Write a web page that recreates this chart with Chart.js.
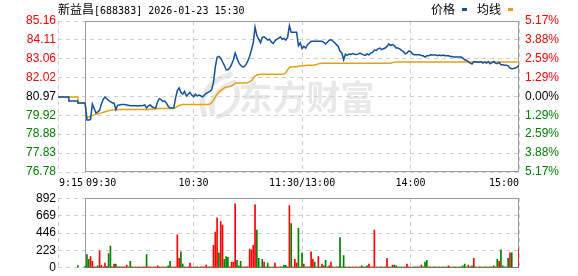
<!DOCTYPE html>
<html>
<head>
<meta charset="utf-8">
<script src="https://cdn.jsdelivr.net/npm/chart.js@4.4.1/dist/chart.umd.min.js"></script>
<style>
  html, body { margin: 0; padding: 0; width: 578px; height: 276px; overflow: hidden; background: #fff; }
  #wrap { position: relative; width: 578px; height: 276px; overflow: hidden; }
  canvas { position: absolute; left: 0; }
  #priceChart { top: 0; }
  #volChart { top: 189px; }
  .txt { position: absolute; top: 1px; line-height: 16px; color: #000; white-space: nowrap; }
  .cjk { font-family: "Noto Sans CJK SC", sans-serif; font-size: 12px; }
  .mono { font-family: "DejaVu Sans Mono", monospace; font-size: 10px; }
  .key { position: absolute; top: 8px; width: 5px; height: 3px; }
</style>
</head>
<body>
<div id="wrap">
  <canvas id="priceChart" width="578" height="192"></canvas>
  <canvas id="volChart" width="578" height="88"></canvas>
  <div class="txt" style="left:58px"><span class="cjk">新益昌</span><span class="mono">[688383] 2026-01-23 15:30</span></div>
  <div class="txt cjk" style="left:431px">价格</div>
  <div class="key" style="left:462px;background:#1450a0"></div>
  <div class="txt cjk" style="left:477px">均线</div>
  <div class="key" style="left:508px;background:#e8a015"></div>
</div>
<script>
// ---- data (minutes from 09:30; pre-market -15..0) ----
const timeTicks = [-15, 0, 60, 120, 180, 240];
const timeLabels = ["9:15", "09:30", "10:30", "11:30/13:00", "14:00", "15:00"];

const priceTicks = [76.78, 77.83, 78.88, 79.92, 80.97, 82.02, 83.06, 84.11, 85.16];
const pctLabels = ["5.17%", "3.88%", "2.59%", "1.29%", "0.00%", "1.29%", "2.59%", "3.88%", "5.17%"];
const volTicks = [0, 223, 446, 669, 892];

// auction 9:15 - 9:30
const prePrice = [80.94, 80.94, 80.94, 80.94, 80.94, 80.94, 80.72, 80.72, 80.72, 80.72, 80.72, 80.61, 80.61, 80.61, 80.61, 80.61];
const preAvg = [80.94, 80.94, 80.94, 80.94, 80.94, 80.94, 80.94, 80.94, 80.94, 80.94, 80.94, 80.61, 80.61, 80.61, 80.61, 80.61];
const preVolMinute = [-4];
const preVolume = [30];

const price = [
  80.61, 79.66, 79.66, 79.70, 80.55, 80.30, 80.05, 80.12, 80.20, 80.55,
  80.80, 80.95, 80.85, 80.75, 80.68, 80.62, 80.60, 80.25, 80.48, 80.50,
  80.52, 80.52, 80.52, 80.50, 80.48, 80.45, 80.45, 80.45, 80.46, 80.44,
  80.45, 80.45, 80.47, 80.50, 80.33, 80.45, 80.50, 80.40, 80.35, 80.33,
  80.65, 80.85, 80.80, 80.70, 80.72, 80.60, 80.42, 80.33, 80.33, 80.33,
  80.87, 81.30, 81.45, 81.20, 81.10, 81.25, 81.00, 81.10, 81.20, 81.05,
  80.95, 81.10, 81.00, 81.05, 81.00, 80.95, 81.05, 81.15, 81.20, 81.25,
  81.35, 81.75, 82.60, 83.15, 83.20, 83.10, 82.90, 82.70, 82.45, 82.45,
  82.55, 82.75, 83.00, 83.38, 83.10, 82.85, 82.70, 82.62, 82.62, 82.75,
  82.95, 83.20, 83.55, 83.95, 84.82, 84.35, 84.15, 83.95, 84.25, 84.28,
  84.20, 84.10, 84.15, 84.00, 83.92, 84.05, 84.15, 84.20, 84.28, 84.15,
  84.20, 84.10, 84.25, 84.90, 84.53, 84.53, 84.53, 84.53, 83.78, 83.95,
  83.62, 83.75, 83.66, 83.85, 83.94, 84.03, 84.03, 84.03, 84.03, 84.03,
  84.03, 84.03, 83.98, 83.88, 83.98, 84.09, 84.12, 84.05, 83.95, 83.85,
  83.75, 83.48, 83.40, 83.01, 83.32, 83.25, 83.33, 83.30, 83.35, 83.32,
  83.30, 83.32, 83.38, 83.32, 83.28, 83.25, 83.33, 83.28, 83.38, 83.42,
  83.55, 83.53, 83.61, 83.66, 83.57, 83.62, 83.66, 83.75, 83.89, 83.80,
  83.85, 83.80, 83.66, 83.66, 83.61, 83.53, 83.47, 83.34, 83.38, 83.49,
  83.47, 83.34, 83.29, 83.29, 83.29, 83.29, 83.25, 83.23, 83.16, 83.23,
  83.23, 83.29, 83.27, 83.27, 83.27, 83.23, 83.27, 83.23, 83.27, 83.23,
  83.23, 83.23, 83.19, 83.19, 83.16, 83.16, 83.16, 83.16, 83.16, 83.10,
  83.01, 82.97, 82.90, 82.82, 82.77, 82.91, 82.89, 82.88, 82.87, 82.91,
  82.82, 82.88, 82.82, 82.90, 82.79, 82.85, 82.91, 82.82, 82.79, 82.87,
  82.73, 82.73, 82.71, 82.71, 82.67, 82.55, 82.51, 82.52, 82.55, 82.60,
  82.71
];

const avgPrice = [
  80.61, 79.78, 79.82, 79.88, 79.92, 79.95, 79.98, 80.00, 80.03, 80.06,
  80.09, 80.12, 80.15, 80.18, 80.20, 80.22, 80.23, 80.23, 80.24, 80.25,
  80.25, 80.25, 80.25, 80.25, 80.25, 80.25, 80.25, 80.25, 80.25, 80.25,
  80.25, 80.25, 80.25, 80.25, 80.25, 80.25, 80.26, 80.26, 80.27, 80.27,
  80.30, 80.30, 80.30, 80.30, 80.30, 80.30, 80.30, 80.30, 80.30, 80.31,
  80.36, 80.42, 80.47, 80.50, 80.52, 80.52, 80.52, 80.52, 80.52, 80.52,
  80.52, 80.52, 80.52, 80.52, 80.52, 80.52, 80.52, 80.52, 80.53, 80.55,
  80.62, 80.78, 80.95, 81.10, 81.22, 81.30, 81.38, 81.45, 81.50, 81.50,
  81.52, 81.55, 81.62, 81.70, 81.72, 81.72, 81.72, 81.72, 81.72, 81.72,
  81.73, 81.78, 81.86, 81.98, 82.10, 82.16, 82.18, 82.20, 82.20, 82.20,
  82.20, 82.20, 82.20, 82.20, 82.20, 82.20, 82.20, 82.20, 82.20, 82.20,
  82.22, 82.30, 82.45, 82.58, 82.62, 82.62, 82.62, 82.62, 82.65, 82.66,
  82.67, 82.68, 82.69, 82.70, 82.70, 82.71, 82.71, 82.72, 82.74, 82.78,
  82.80, 82.81, 82.82, 82.82, 82.82, 82.82, 82.82, 82.82, 82.82, 82.82,
  82.82, 82.82, 82.82, 82.82, 82.82, 82.82, 82.82, 82.82, 82.82, 82.82,
  82.82, 82.82, 82.82, 82.82, 82.82, 82.82, 82.82, 82.82, 82.82, 82.82,
  82.82, 82.82, 82.82, 82.82, 82.82, 82.82, 82.82, 82.82, 82.82, 82.82,
  82.85, 82.87, 82.88, 82.88, 82.88, 82.88, 82.88, 82.88, 82.88, 82.88,
  82.88, 82.88, 82.88, 82.88, 82.88, 82.88, 82.88, 82.88, 82.88, 82.88,
  82.88, 82.88, 82.88, 82.88, 82.88, 82.88, 82.88, 82.88, 82.88, 82.88,
  82.88, 82.88, 82.88, 82.88, 82.88, 82.88, 82.88, 82.88, 82.88, 82.88,
  82.88, 82.88, 82.88, 82.88, 82.88, 82.88, 82.88, 82.88, 82.88, 82.88,
  82.88, 82.88, 82.88, 82.88, 82.88, 82.88, 82.88, 82.88, 82.88, 82.88,
  82.88, 82.88, 82.88, 82.88, 82.88, 82.88, 82.88, 82.88, 82.88, 82.88,
  82.88
];

const volume = [
  20, 169, 109, 145, 84, 12, 12, 24, 217, 32,
  12, 60, 20, 181, 277, 12, 48, 48, 12, 12,
  12, 12, 12, 36, 12, 84, 12, 10, 12, 10,
  12, 10, 12, 12, 169, 12, 12, 10, 12, 10,
  24, 12, 10, 12, 10, 12, 24, 84, 12, 10,
  12, 422, 121, 205, 48, 12, 10, 12, 60, 12,
  10, 12, 12, 10, 12, 12, 12, 36, 12, 12,
  12, 289, 458, 639, 193, 591, 547, 109, 145, 133,
  12, 72, 72, 820, 96, 24, 84, 12, 12, 12,
  12, 241, 229, 289, 808, 482, 121, 12, 109, 72,
  12, 60, 12, 10, 12, 60, 12, 10, 12, 12,
  36, 32, 12, 796, 567, 12, 109, 60, 506, 12,
  193, 48, 12, 12, 12, 205, 109, 72, 12, 145,
  12, 48, 24, 96, 12, 24, 72, 12, 10, 12,
  12, 386, 12, 157, 12, 10, 12, 10, 12, 10,
  12, 10, 12, 24, 12, 12, 24, 48, 12, 12,
  482, 12, 10, 12, 12, 10, 12, 121, 12, 10,
  36, 36, 24, 12, 10, 12, 10, 12, 48, 12,
  8, 10, 12, 12, 12, 12, 36, 12, 72, 96,
  12, 12, 10, 12, 12, 10, 12, 10, 12, 10,
  12, 24, 12, 10, 12, 12, 10, 12, 12, 24,
  48, 12, 36, 12, 24, 121, 12, 10, 12, 12,
  10, 12, 12, 10, 12, 12, 24, 12, 109, 84,
  229, 24, 12, 12, 121, 193, 193, 0, 0, 0,
  241
];

// r = up minute, g = down minute
const volDir = (
  "gggrrrggrr grggggrgrg rgrrggrrgr rgrrgrrgrr rrgrrgggrr " +
  "rrrggrgrrr grgrgrrrrg rrrrgrrggg rrrrgggrgr rrrrrggggr " +
  "ggrggrrrgg ggrrgrrrgg grggrrrggr grggrrrggr ggggrgrgrr " +
  "grrgrggrrr rrgrgrrrrg rgggrggrrr ggggrgrggg grggrgrggr " +
  "grggrggrgg grgrgrggrg rgrgrggrgr gggggrgggg r"
).replace(/ /g, "").split("");
const preVolDir = ["g"];

// ---- look ----
const RED = "#ff0000";
const GREEN = "#008000";
const BLUE = "#1450a0";
const ORANGE = "#e8a015";
const GRID = "#cfcfcf";
const FRAME = "#999999";
const tickFont = { family: "'Liberation Sans', Arial, sans-serif", size: 12 };

function tickColor(i) {
  if (i < 4) return GREEN;
  if (i === 4) return "#000";
  return RED;
}

// solid frame around the trading session (09:30 - 15:00)
const sessionFrame = {
  id: "sessionFrame",
  beforeDatasetsDraw(chart) {
    const { ctx, chartArea, scales } = chart;
    const l = Math.round(scales.x.getPixelForValue(0)) + 0.5;
    const r = Math.round(scales.x.getPixelForValue(240)) - 0.5;
    const t = Math.round(chartArea.top) + 0.5;
    const b = Math.round(chartArea.bottom) - 0.5;
    ctx.save();
    ctx.strokeStyle = FRAME;
    ctx.lineWidth = 1;
    ctx.strokeRect(l, t, r - l, b - t);
    ctx.restore();
  },
};

// faint brand watermark behind the grid
const watermark = {
  id: "watermark",
  beforeDraw(chart) {
    const { ctx, chartArea: a } = chart;
    const cx = (a.left + a.right) / 2;
    const cy = (a.top + a.bottom) / 2;
    ctx.save();
    ctx.fillStyle = "#e8e8e8";
    ctx.strokeStyle = "#e8e8e8";
    ctx.font = "bold 34px 'Noto Sans CJK SC', sans-serif";
    ctx.textAlign = "left";
    ctx.textBaseline = "middle";
    ctx.fillText("东方财富", cx - 50, cy + 1);
    // rough flame logo
    const lx = cx - 90, ly = cy - 24;
    ctx.lineCap = "round";
    ctx.lineWidth = 5;
    ctx.beginPath();
    ctx.moveTo(lx + 6, ly + 42);
    ctx.bezierCurveTo(lx - 2, ly + 22, lx + 14, ly + 6, lx + 32, ly + 2);
    ctx.stroke();
    ctx.beginPath();
    ctx.moveTo(lx + 14, ly + 40);
    ctx.bezierCurveTo(lx + 10, ly + 26, lx + 22, ly + 14, lx + 36, ly + 10);
    ctx.stroke();
    ctx.beginPath();
    ctx.moveTo(lx + 20, ly + 44);
    ctx.bezierCurveTo(lx + 34, ly + 40, lx + 42, ly + 28, lx + 38, ly + 16);
    ctx.stroke();
    ctx.restore();
  },
};

// time labels under the price panel
const timeAxisLabels = {
  id: "timeAxisLabels",
  afterDraw(chart) {
    const { ctx, chartArea, scales } = chart;
    ctx.save();
    ctx.font = "10px 'DejaVu Sans Mono', monospace";
    ctx.fillStyle = "#000";
    ctx.textBaseline = "middle";
    timeTicks.forEach((t, i) => {
      let px = scales.x.getPixelForValue(t);
      if (i < 2) { ctx.textAlign = "left"; px += 1; }
      else if (i === timeTicks.length - 1) ctx.textAlign = "right";
      else ctx.textAlign = "center";
      ctx.fillText(timeLabels[i], px, chartArea.bottom + 11);
    });
    ctx.restore();
  },
};

function makeXScale(height) {
  return {
    type: "linear",
    min: -15,
    max: 240,
    offset: false,
    afterBuildTicks: (s) => { s.ticks = timeTicks.map((v) => ({ value: v })); },
    afterFit: (s) => { s.height = height; },
    grid: { color: GRID, drawTicks: false, offset: false },
    border: { display: false, dash: [4, 4] },
    ticks: { display: false },
  };
}

new Chart(document.getElementById("priceChart"), {
  type: "line",
  data: {
    datasets: [
      {
        data: price.map((v, i) => ({ x: i, y: v })),
        borderColor: BLUE, borderWidth: 1.5, pointRadius: 0, tension: 0,
      },
      {
        data: prePrice.map((v, i) => ({ x: i - 15, y: v })),
        borderColor: BLUE, borderWidth: 1.5, pointRadius: 0, stepped: true,
      },
      {
        data: avgPrice.map((v, i) => ({ x: i, y: v })),
        borderColor: ORANGE, borderWidth: 1.5, pointRadius: 0, tension: 0,
      },
      {
        data: preAvg.map((v, i) => ({ x: i - 15, y: v })),
        borderColor: ORANGE, borderWidth: 1.5, pointRadius: 0, stepped: true,
      },
    ],
  },
  options: {
    responsive: false,
    animation: false,
    events: [],
    layout: { padding: { top: 21, left: 0, right: 0, bottom: 0 } },
    plugins: { legend: { display: false }, tooltip: { enabled: false } },
    scales: {
      x: makeXScale(20),
      y: {
        position: "left",
        min: priceTicks[0],
        max: priceTicks[priceTicks.length - 1],
        afterBuildTicks: (s) => { s.ticks = priceTicks.map((v) => ({ value: v })); },
        afterFit: (s) => { s.width = 58; },
        grid: { color: GRID, drawTicks: false },
        border: { display: false, dash: [4, 4] },
        ticks: {
          padding: 2,
          font: tickFont,
          color: (c) => tickColor(c.index),
          callback: (v, i) => priceTicks[i].toFixed(2),
        },
      },
      yr: {
        position: "right",
        min: priceTicks[0],
        max: priceTicks[priceTicks.length - 1],
        afterBuildTicks: (s) => { s.ticks = priceTicks.map((v) => ({ value: v })); },
        afterFit: (s) => { s.width = 59; },
        grid: { display: false, drawTicks: false },
        border: { display: false },
        ticks: {
          padding: 6,
          font: tickFont,
          color: (c) => tickColor(c.index),
          callback: (v, i) => pctLabels[i],
        },
      },
    },
  },
  plugins: [watermark, sessionFrame, timeAxisLabels],
});

new Chart(document.getElementById("volChart"), {
  type: "bar",
  data: {
    datasets: [
      {
        data: volume.map((v, i) => ({ x: i, y: v })),
        backgroundColor: volDir.map((d) => (d === "r" ? RED : GREEN)),
        barThickness: 1,
        borderWidth: 0,
        grouped: false,
      },
      {
        data: preVolume.map((v, i) => ({ x: preVolMinute[i], y: v })),
        backgroundColor: preVolDir.map((d) => (d === "r" ? RED : GREEN)),
        barThickness: 1,
        borderWidth: 0,
        grouped: false,
      },
    ],
  },
  options: {
    responsive: false,
    animation: false,
    events: [],
    layout: { padding: { top: 7, left: 0, right: 59, bottom: 7 } },
    plugins: { legend: { display: false }, tooltip: { enabled: false } },
    scales: {
      x: makeXScale(0),
      y: {
        position: "left",
        min: 0,
        max: volTicks[volTicks.length - 1],
        afterBuildTicks: (s) => { s.ticks = volTicks.map((v) => ({ value: v })); },
        afterFit: (s) => { s.width = 58; },
        grid: { color: GRID, drawTicks: false },
        border: { display: false, dash: [4, 4] },
        ticks: { padding: 2, font: tickFont, color: "#000", callback: (v, i) => String(volTicks[i]) },
      },
    },
  },
  plugins: [sessionFrame],
});
</script>
</body>
</html>
